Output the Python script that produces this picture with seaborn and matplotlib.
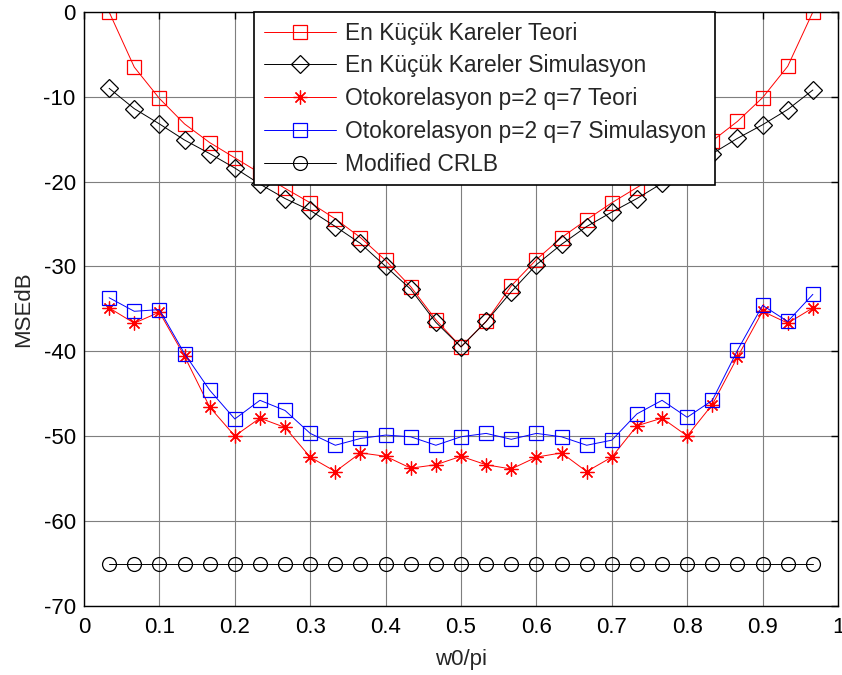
import numpy as np
import matplotlib
matplotlib.use("Agg")
import matplotlib.pyplot as plt
import seaborn as sns

# normalised frequency grid w0/pi
w0 = [i / 30 for i in range(1, 30)]

ls_theory = [0, -6.5, -10.2, -13.2, -15.4, -17.2, -19.0, -20.8, -22.5, -24.4,
             -26.6, -29.3, -32.4, -36.3, -39.5, -36.5, -32.3, -29.2, -26.6,
             -24.5, -22.5, -20.7, -18.9, -17.2, -15.2, -12.9, -10.1, -6.4, 0]
ls_sim = [-9.0, -11.4, -13.2, -15.1, -16.7, -18.4, -20.3, -22.0, -23.4, -25.3,
          -27.3, -30.0, -32.7, -36.6, -39.5, -36.5, -33.0, -29.8, -27.4,
          -25.3, -23.6, -22.0, -20.2, -18.4, -16.7, -14.9, -13.3, -11.5, -9.2]
ac_theory = [-34.9, -36.7, -35.4, -40.6, -46.6, -50.0, -47.9, -49.0, -52.5,
             -54.2, -52.0, -52.4, -53.8, -53.4, -52.4, -53.4, -53.9, -52.5,
             -52.0, -54.2, -52.5, -48.8, -47.9, -50.0, -46.3, -40.7, -35.3,
             -36.7, -34.9]
ac_sim = [-33.7, -35.3, -35.1, -40.3, -44.6, -48.0, -45.8, -47.0, -49.7,
          -51.1, -50.3, -49.9, -50.1, -51.1, -50.1, -49.7, -50.4, -49.7,
          -50.1, -51.1, -50.5, -47.4, -45.8, -47.8, -45.8, -39.9, -34.6,
          -36.5, -33.3]
crlb = [-65.1] * len(w0)

labels = ["En Küçük Kareler Teori", "En Küçük Kareler Simulasyon",
          "Otokorelasyon p=2 q=7 Teori", "Otokorelasyon p=2 q=7 Simulasyon",
          "Modified CRLB"]
xticks = [0, 0.1, 0.2, 0.3, 0.4, 0.5, 0.6, 0.7, 0.8, 0.9, 1]
xticklabels = ["0", "0.1", "0.2", "0.3", "0.4", "0.5", "0.6", "0.7", "0.8", "0.9", "1"]
yticks = [0, -10, -20, -30, -40, -50, -60, -70]
yticklabels = ["0", "-10", "-20", "-30", "-40", "-50", "-60", "-70"]

sns.set_style("white")
plt.rcParams["font.family"] = ["Liberation Sans", "DejaVu Sans"]

FS = 16
fig = plt.figure(figsize=(8.42, 6.75), dpi=100)
ax = fig.add_axes([84 / 842, 1 - 605.5 / 675, 754 / 842, 593.5 / 675])

lw = 0.7
styles = [
    (ls_theory, "red", "s", 10),
    (ls_sim, "black", "D", 9),
    (ac_theory, "red", (8, 2, 0), 10),
    (ac_sim, "blue", "s", 10),
    (crlb, "black", "o", 10),
]
for (vals, col, mk, ms), lab in zip(styles, labels):
    sns.lineplot(x=w0, y=vals, ax=ax, color=col, linewidth=lw, marker=mk,
                 markersize=ms, markerfacecolor="none", markeredgecolor=col,
                 markeredgewidth=0.9, label=lab, estimator=None, sort=False)

ax.set_xlim(0, 1)
ax.set_ylim(-70, 0)
ax.set_xticks(xticks)
ax.set_xticklabels(xticklabels)
ax.set_yticks(yticks)
ax.set_yticklabels(yticklabels)
ax.grid(True, color="#7f7f7f", linewidth=0.8, linestyle="-")
ax.set_axisbelow(True)
ax.tick_params(direction="in", length=5, width=1, top=True, right=True,
               labelsize=FS, colors="black")
ax.tick_params(axis="x", pad=8)
ax.tick_params(axis="y", pad=6)
for s in ax.spines.values():
    s.set_color("black")
    s.set_linewidth(1)
ax.set_xlabel("w0/pi", fontsize=FS, labelpad=8)
ax.set_ylabel("MSEdB", fontsize=FS, labelpad=7)

leg = ax.legend(loc="upper left", bbox_to_anchor=(0.2255, 1.0),
                borderaxespad=0, fontsize=16.4, frameon=True, fancybox=False,
                framealpha=1, edgecolor="black", handlelength=3.2,
                handletextpad=0.36, labelspacing=0.43, borderpad=0.42)
leg.get_frame().set_linewidth(1.2)

fig.savefig("out.png", dpi=100)
